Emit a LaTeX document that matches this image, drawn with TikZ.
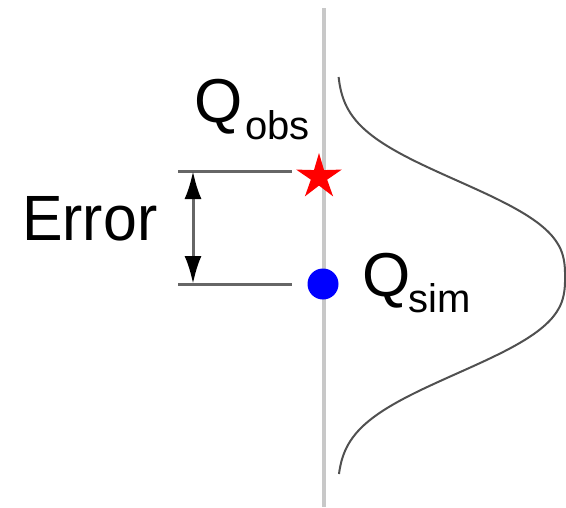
\documentclass[tikz,border=0pt]{standalone}
\usepackage{fontspec}
\setmainfont{Liberation Sans}
\usetikzlibrary{shapes.geometric,arrows.meta}
\definecolor{axisgray}{HTML}{C8C8C8}
\definecolor{dimgray}{HTML}{666666}
\definecolor{curvegray}{HTML}{505050}
\begin{document}
\begin{tikzpicture}[x=1pt,y=-1pt,
  big/.style={font=\fontsize{62}{62}\selectfont, inner sep=0, anchor=base west},
  small/.style={font=\fontsize{40}{40}\selectfont, inner sep=0, anchor=base west},
  dimline/.style={draw=dimgray, line width=3pt}]
\useasboundingbox (0,0) rectangle (566,507);
% vertical axis
\coordinate (axtop) at (324,8);
\coordinate (axbot) at (324,507);
\draw[axisgray, line width=4pt] (axtop) -- (axbot);
% distribution curve
\draw[curvegray, line width=2pt] plot[domain=77:474, samples=121, smooth]
  ({337+228*exp(-pow(abs(\x-277)/113+0.0001,2.8))}, \x);
% dimension lines
\coordinate (l1) at (178,171);
\coordinate (r1) at (292,171);
\coordinate (l2) at (178,284);
\coordinate (r2) at (292,284);
\coordinate (atop) at (193,171);
\coordinate (abot) at (193,284);
\draw[dimline] (l1) -- (r1);
\draw[dimline] (l2) -- (r2);
\draw[dimline, {Latex[length=28pt,width=17pt,color=black]}-{Latex[length=28pt,width=17pt,color=black]}] (atop) -- (abot);
% markers
\node[star, star points=5, star point ratio=2.8, minimum size=48pt, inner sep=0, fill=red] (obs) at (319,177) {};
\node[circle, fill=blue, minimum size=31pt, inner sep=0] (sim) at (323,284) {};
% labels
\node[big] (qobs) at (194,122) {Q};
\node[small] (obssub) at (245,139) {obs};
\node[big] (qsim) at (362,296) {Q};
\node[small] (simsub) at (408,312) {sim};
\node[big, font=\fontsize{64}{64}\selectfont, xscale=0.95] (err) at (22,240) {Error};
\end{tikzpicture}
\end{document}
